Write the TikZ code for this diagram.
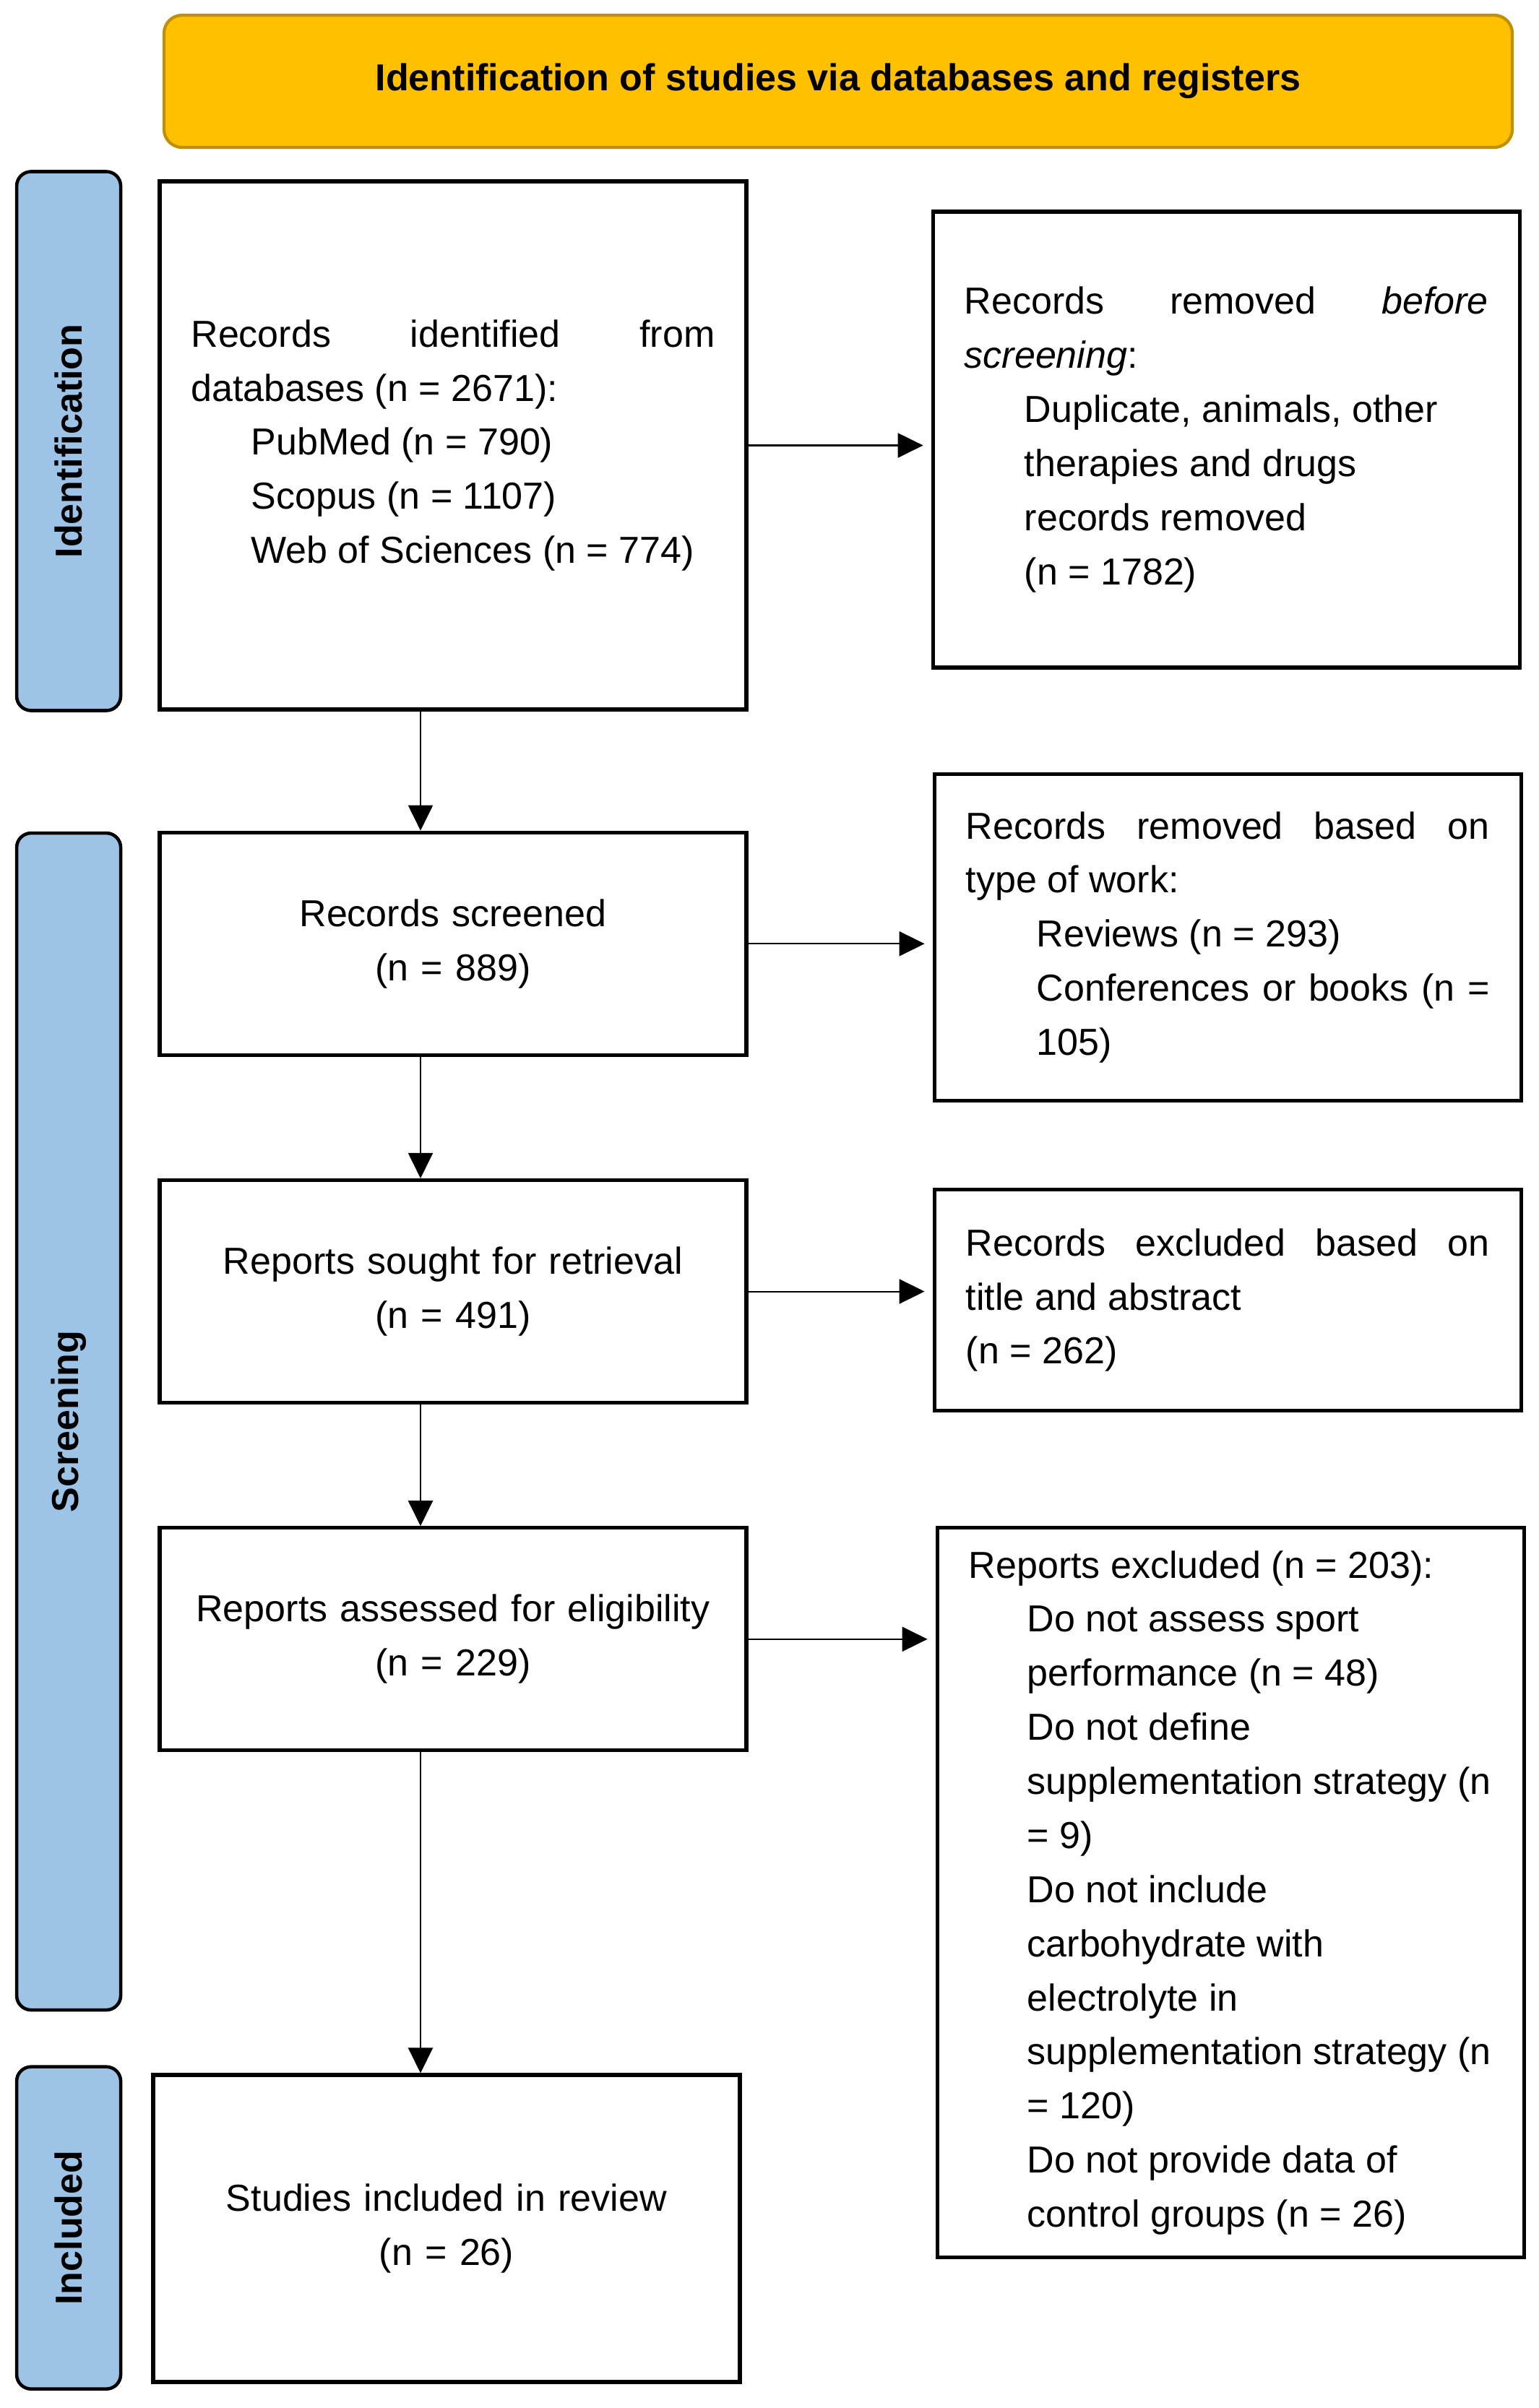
\documentclass[tikz,border=0pt]{standalone}
\usepackage{fontspec}
\setmainfont{Liberation Sans}
\usetikzlibrary{positioning, arrows.meta}
\definecolor{prismagold}{RGB}{255, 192, 0}
\definecolor{prismaedge}{RGB}{191, 144, 0}
\definecolor{tabblue}{RGB}{157, 195, 230}

\begin{document}
\begin{tikzpicture}[>={Triangle[length=3.5mm, width=3.4mm]},
    font=\fontsize{14.8}{21.3}\selectfont,
    box/.style={draw, line width=1.5pt, minimum width=8.12cm, text width=7.25cm, inner xsep=0.435cm, inner ysep=0pt},
    tab/.style={draw, line width=1.3pt, rounded corners=0.2cm, fill=tabblue, minimum width=1.44cm, inner sep=0pt, font=\fontsize{14.8}{21.3}\selectfont\bfseries},
    link/.style={->, line width=0.6pt},
    side/.style={link, shorten >=1.1mm}]
    \useasboundingbox (0,0) rectangle (21.29,-33.33);

    % Nodes
    \node (head) [draw=prismaedge, line width=1.2pt, fill=prismagold, rounded corners=0.25cm, minimum width=18.66cm, minimum height=1.83cm, font=\fontsize{14.8}{21.3}\selectfont\bfseries] at (11.60,-1.125) {Identification of studies via databases and registers};

    \node (idf) [box, align=justify, minimum height=7.31cm] at (6.27,-6.165) {Records identified from\linebreak databases (n = 2671):\\
        \hspace*{0.83cm}PubMed (n = 790)\\\hspace*{0.83cm}Scopus (n = 1107)\\\hspace*{0.83cm}Web of Sciences (n = 774)};
    \node (scr) [box, align=center, minimum height=3.08cm, below=1.65cm of idf] {Records screened\\(n = 889)};
    \node (sought) [box, align=center, minimum height=3.08cm, below=1.68cm of scr] {Reports sought for retrieval\\(n = 491)};
    \node (assess) [box, align=center, minimum height=3.08cm, below=1.68cm of sought] {Reports assessed for eligibility\\(n = 229)};
    \node (incl) [box, align=center, minimum height=4.25cm, below=4.44cm of assess, xshift=-0.09cm] {Studies included in review\\(n = 26)};

    \node (rem1) [box, align=justify, minimum height=6.31cm, right=2.53cm of idf, yshift=0.08cm] {Records removed \textit{before}\linebreak \textit{screening}:\\
        \hspace*{0.83cm}Duplicate, animals, other\\\hspace*{0.83cm}therapies and drugs\\\hspace*{0.83cm}records removed\\\hspace*{0.83cm}(n = 1782)};
    \node (rem2) [box, align=justify, minimum height=4.52cm, right=2.55cm of scr, yshift=0.09cm] {Records removed based on\linebreak type of work:\\
        \hspace*{0.98cm}Reviews (n = 293)\\\hspace*{0.98cm}Conferences or books (n =\linebreak\hspace*{0.98cm}105)};
    \node (rem3) [box, align=justify, minimum height=3.06cm, right=2.55cm of sought, yshift=-0.12cm] {Records excluded based on\linebreak title and abstract\\(n = 262)};
    \node (rem4) [box, align=justify, minimum height=10.10cm, right=2.59cm of assess.north east, anchor=north west] {Reports excluded (n = 203):\\
        \hspace*{0.81cm}Do not assess sport\\\hspace*{0.81cm}performance (n = 48)\\\hspace*{0.81cm}Do not define\\\hspace*{0.81cm}supplementation strategy (n\\\hspace*{0.81cm}= 9)\\\hspace*{0.81cm}Do not include\\\hspace*{0.81cm}carbohydrate with\\\hspace*{0.81cm}electrolyte in\\\hspace*{0.81cm}supplementation strategy (n\\\hspace*{0.81cm}= 120)\\\hspace*{0.81cm}Do not provide data of\\\hspace*{0.81cm}control groups (n = 26)};

    \node (tabid) [tab, minimum height=7.46cm, left=0.49cm of idf, yshift=0.06cm] {\rotatebox{90}{Identification}};
    \node (tabscr) [tab, minimum height=16.29cm, below=1.65cm of tabid] {\rotatebox{90}{Screening}};
    \node (tabinc) [tab, minimum height=4.46cm, below=0.74cm of tabscr] {\rotatebox{90}{Included}};

    \coordinate (drop1) at ([xshift=-4.5mm]idf.south);
    \coordinate (drop2) at ([xshift=-4.5mm]scr.south);
    \coordinate (drop3) at ([xshift=-4.5mm]sought.south);
    \coordinate (drop4) at ([xshift=-4.5mm]assess.south);

    % Arrows
    \draw[link] (drop1) -- (drop1 |- scr.north);
    \draw[link] (drop2) -- (drop2 |- sought.north);
    \draw[link] (drop3) -- (drop3 |- assess.north);
    \draw[link] (drop4) -- (drop4 |- incl.north);
    \draw[side] (idf.east) -- (idf.east -| rem1.west);
    \draw[side] (scr.east) -- (scr.east -| rem2.west);
    \draw[side] (sought.east) -- (sought.east -| rem3.west);
    \draw[side] (assess.east) -- (assess.east -| rem4.west);
\end{tikzpicture}
\end{document}
